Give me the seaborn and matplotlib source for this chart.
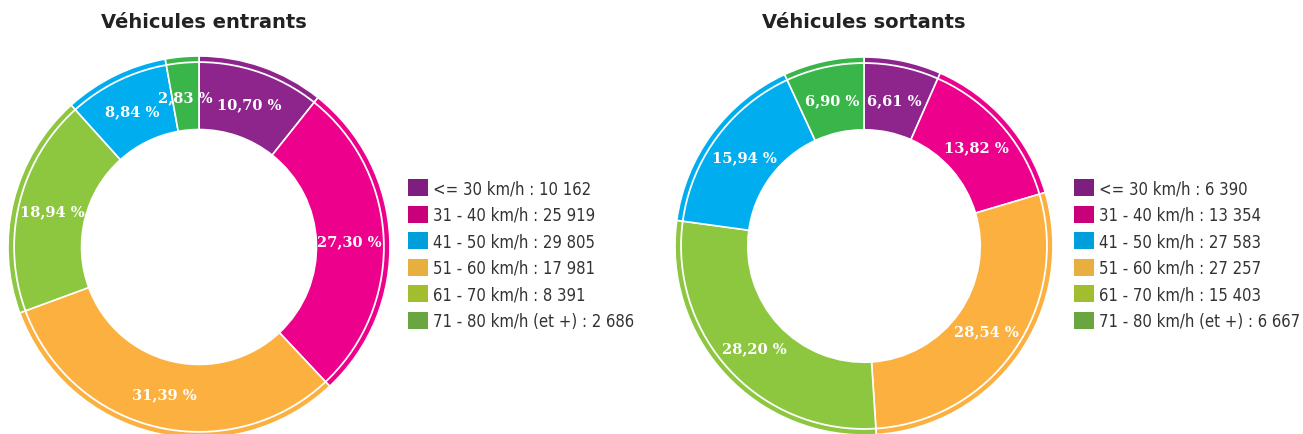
import matplotlib.pyplot as plt
import numpy as np
import seaborn as sns
from matplotlib.patches import Circle, Patch

# Data
categories = ["<= 30 km/h", "31 - 40 km/h", "41 - 50 km/h", "51 - 60 km/h",
              "61 - 70 km/h", "71 - 80 km/h (et +)"]
counts_in = [10162, 25919, 29805, 17981, 8391, 2686]
counts_out = [6390, 13354, 27583, 27257, 15403, 6667]
titles = ["Véhicules entrants", "Véhicules sortants"]

# colours: ring slices (as drawn) and legend swatches (as drawn)
pie_colors = ["#8E258D", "#EC008C", "#FBB040", "#8DC63F", "#00AEEF", "#39B54A"]
legend_colors = ["#7E1F7F", "#C8007A", "#009EDB", "#E8AE3E", "#A2BE2F", "#69A640"]

sns.set_theme(style="white")
plt.rcParams["font.family"] = ["DejaVu Sans"]

W, H = 1303, 435
fig = plt.figure(figsize=(W / 100, H / 100), dpi=100)
ax = fig.add_axes([0, 0, 1, 1])
ax.set_xlim(0, W)
ax.set_ylim(0, H)
ax.set_aspect("equal")
ax.axis("off")


def fr_pct(p):
    return f"{p:.2f}".replace(".", ",") + " %"


def fr_int(v):
    return f"{v:,}".replace(",", " ")


layout = [
    # centre x, centre y, radius, title x, legend anchor x
    (199, 187, 191, 204, 408),
    (864, 188, 189, 864, 1074),
]

legends = []
for (cx, cy, r, tx, lx), counts, title in zip(layout, [counts_in, counts_out], titles):
    wedges, texts, autotexts = ax.pie(
        counts,
        colors=pie_colors,
        startangle=90,
        counterclock=False,
        center=(cx, cy),
        radius=r,
        autopct=fr_pct,
        pctdistance=0.79,
        wedgeprops=dict(width=r * 0.385, edgecolor="white", linewidth=1.2),
        textprops=dict(color="white", fontsize=10.5, fontweight="bold",
                       family=["DejaVu Serif"]),
        frame=True,
    )
    # thin white line near the outer edge
    ax.add_patch(Circle((cx, cy), r * 0.968, fill=False, ec="white", lw=1.3, zorder=3))

    ax.text(tx, H - 22, title, ha="center", va="center", fontsize=14,
            fontweight="bold", color="#222222")

    handles = [Patch(facecolor=c, edgecolor="none") for c in legend_colors]
    labels = [f"{cat} : {fr_int(v)}" for cat, v in zip(categories, counts)]
    leg = ax.legend(
        handles, labels,
        loc="upper left",
        bbox_to_anchor=(lx, H - 180),
        bbox_transform=ax.transData,
        frameon=False,
        handlelength=1.2,
        handleheight=1.2,
        handletextpad=0.3,
        labelspacing=0.5,
        borderpad=0,
        borderaxespad=0,
        prop=dict(family="DejaVu Sans", stretch="condensed", size=12),
        labelcolor="#333333",
    )
    legends.append(leg)

for leg in legends[:-1]:
    ax.add_artist(leg)

ax.set_xlim(0, W)
ax.set_ylim(0, H)
ax.axis("off")

fig.savefig("out.png", dpi=100)
